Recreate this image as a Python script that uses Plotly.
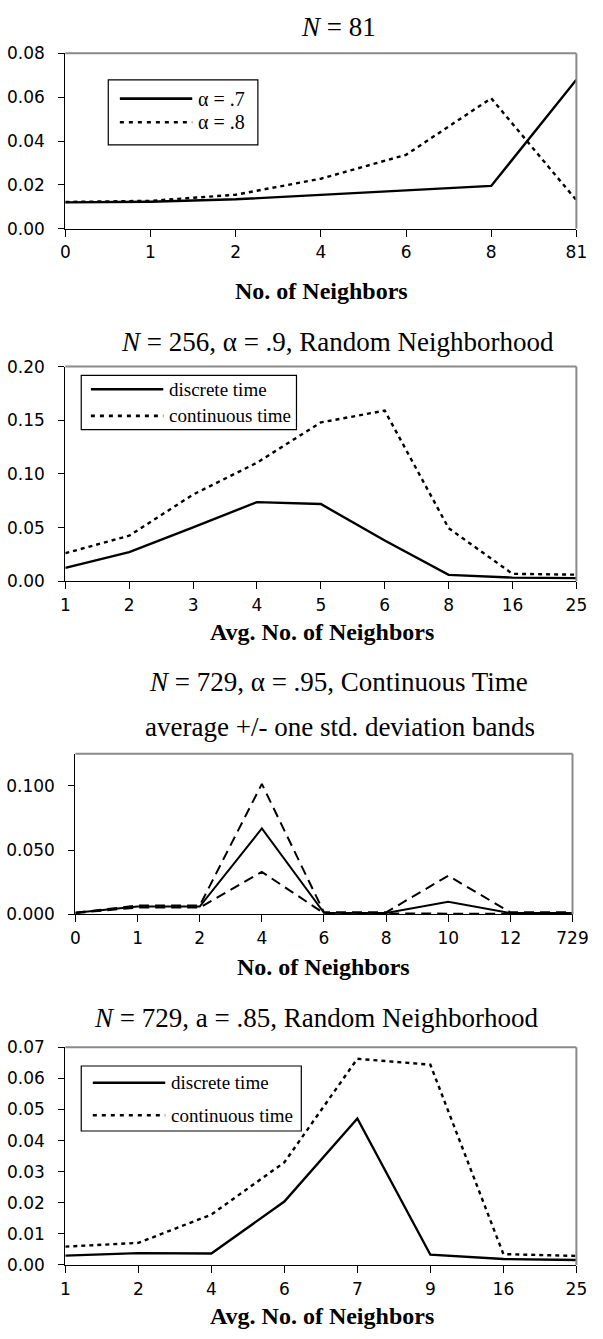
import plotly.graph_objects as go

W, H = 603, 1339

# ---------------- data ----------------
P1_CATS = ["0", "1", "2", "4", "6", "8", "81"]
P1_NAMES = ["α = .7", "α = .8"]
P1_A7 = [0.0120, 0.0123, 0.0134, 0.0153, 0.0175, 0.0195, 0.0680]
P1_A8 = [0.0122, 0.0127, 0.0155, 0.0228, 0.0337, 0.0595, 0.0130]

P2_CATS = ["1", "2", "3", "4", "5", "6", "8", "16", "25"]
P2_NAMES = ["discrete time", "continuous time"]
P2_DISC = [0.0125, 0.0272, 0.0503, 0.0738, 0.0720, 0.0380, 0.0060, 0.0035, 0.0030]
P2_CONT = [0.0262, 0.0425, 0.0808, 0.1105, 0.1480, 0.1590, 0.0495, 0.0070, 0.0062]

P3_CATS = ["0", "1", "2", "4", "6", "8", "10", "12", "729"]
P3_MEAN = [0.0012, 0.0060, 0.0060, 0.0668, 0.0012, 0.0010, 0.0097, 0.0010, 0.0010]
P3_UPPER = [0.0012, 0.0068, 0.0068, 0.1015, 0.0015, 0.0015, 0.0300, 0.0015, 0.0015]
P3_LOWER = [0.0010, 0.0052, 0.0052, 0.0330, 0.0008, 0.0005, 0.0005, 0.0005, 0.0005]

P4_CATS = ["1", "2", "4", "6", "7", "9", "16", "25"]
P4_NAMES = ["discrete time", "continuous time"]
P4_DISC = [0.0030, 0.0038, 0.0037, 0.0204, 0.0471, 0.0033, 0.0019, 0.0016]
P4_CONT = [0.0059, 0.0071, 0.0162, 0.0330, 0.0663, 0.0644, 0.0035, 0.0029]

TITLES = [
    "<i>N</i> = 81",
    "<i>N</i> = 256, α = .9, Random Neighborhood",
    "<i>N</i> = 729, α = .95, Continuous Time",
    "<i>N</i> = 729, a = .85, Random Neighborhood",
]
SUBTITLE3 = "average +/- one std. deviation bands"
XTITLES = ["No. of Neighbors", "Avg. No. of Neighbors", "No. of Neighbors", "Avg. No. of Neighbors"]

# ---------------- styling ----------------
SERIF = "Liberation Serif"
TICKFONT = dict(family="DejaVu Sans", size=17, color="black")
GRAY = "#8a8a8a"


def px(x):
    return x / W


def py(y):
    return 1 - y / H


fig = go.Figure()
shapes = []
annotations = []

# panel geometry in pixels: (left, right, top, bottom)
PANELS = [
    (62.5, 592, 44, 222),
    (62.5, 592, 362, 580),
    (73, 588, 755, 918),
    (62.5, 592, 1053, 1274),
]
YSET = [
    dict(range=[0, 0.08], dtick=0.02, tickformat=".2f"),
    dict(range=[0, 0.20], dtick=0.05, tickformat=".2f"),
    dict(range=[0, 0.125], dtick=0.05, tickformat=".3f"),
    dict(range=[0, 0.07], dtick=0.01, tickformat=".2f"),
]
CATS = [P1_CATS, P2_CATS, P3_CATS, P4_CATS]

layout_axes = {}
for i, ((l, r, t, b), ys, cats) in enumerate(zip(PANELS, YSET, CATS)):
    a = 2 * i + 1      # data axes index
    o = 2 * i + 2      # overlay axes index (inside ticks)
    xd = [px(l), px(r)]
    yd = [py(b), py(t)]
    sa = "" if a == 1 else str(a)
    n = len(cats)
    layout_axes[f"xaxis{sa}"] = dict(
        domain=xd, anchor=f"y{sa}", type="category", categoryorder="array",
        categoryarray=cats, range=[0, n - 1], showline=True, linecolor="black",
        linewidth=1.3, ticks="outside", ticklen=7, tickwidth=1.3, tickcolor="black",
        showgrid=False, zeroline=False, tickfont=TICKFONT, ticklabelstandoff=1,
    )
    layout_axes[f"yaxis{sa}"] = dict(
        domain=yd, anchor=f"x{sa}", range=ys["range"], dtick=ys["dtick"],
        tickformat=ys["tickformat"], tick0=0, showline=True, linecolor="black",
        linewidth=1.3, ticks="outside", ticklen=6, tickwidth=1.3, tickcolor="black",
        showgrid=False, zeroline=False, tickfont=TICKFONT, ticklabelstandoff=10,
    )
    # overlay axes for the inner half of the crossing ticks
    layout_axes[f"xaxis{o}"] = dict(
        domain=xd, anchor=f"y{o}", overlaying=f"x{sa}", range=[0, n - 1],
        tickvals=list(range(n)), ticks="inside", ticklen=7, tickwidth=1.3,
        tickcolor="black", showticklabels=False, showgrid=False, zeroline=False,
        showline=False,
    )
    layout_axes[f"yaxis{o}"] = dict(
        domain=yd, anchor=f"x{o}", overlaying=f"y{sa}", range=ys["range"],
        dtick=ys["dtick"], tick0=0, ticks="inside", ticklen=6, tickwidth=1.3,
        tickcolor="black", showticklabels=False, showgrid=False, zeroline=False,
        showline=False,
    )
    # gray frame (top and right)
    shapes.append(dict(type="line", xref=f"x{sa} domain", yref=f"y{sa} domain",
                       x0=0, x1=1, y0=1, y1=1, line=dict(color=GRAY, width=2)))
    shapes.append(dict(type="line", xref=f"x{sa} domain", yref=f"y{sa} domain",
                       x0=1, x1=1, y0=0, y1=1, line=dict(color=GRAY, width=2)))


def add_line(i, cats, vals, name, dash, width=2.4):
    sa = "" if i == 0 else str(2 * i + 1)
    fig.add_trace(go.Scatter(
        x=cats, y=vals, name=name, mode="lines",
        line=dict(color="black", width=width, dash=dash),
        xaxis=f"x{sa}", yaxis=f"y{sa}", showlegend=False, cliponaxis=False,
    ))


DOT = "4px,4px"
add_line(0, P1_CATS, P1_A7, P1_NAMES[0], "solid")
add_line(0, P1_CATS, P1_A8, P1_NAMES[1], DOT)
add_line(1, P2_CATS, P2_DISC, P2_NAMES[0], "solid")
add_line(1, P2_CATS, P2_CONT, P2_NAMES[1], DOT)
add_line(2, P3_CATS, P3_UPPER, "mean + sd", "10px,6px", 2)
add_line(2, P3_CATS, P3_LOWER, "mean - sd", "10px,6px", 2)
add_line(2, P3_CATS, P3_MEAN, "average", "solid", 2)
add_line(3, P4_CATS, P4_DISC, P4_NAMES[0], "solid")
add_line(3, P4_CATS, P4_CONT, P4_NAMES[1], DOT)

# ---------------- titles ----------------
def text(x, y, s, size, bold=False, anchor="center", family=SERIF):
    annotations.append(dict(
        xref="paper", yref="paper", x=px(x), y=py(y), text=(f"<b>{s}</b>" if bold else s),
        showarrow=False, xanchor=anchor, yanchor="middle",
        font=dict(family=family, size=size, color="black"),
    ))


text(346, 17, TITLES[0], 27)
text(344, 337, TITLES[1], 27)
text(346, 682, TITLES[2], 27)
text(347, 728, SUBTITLE3, 27)
text(322, 1023, TITLES[3], 27)

text(328, 285, XTITLES[0], 24, bold=True)
text(328, 631, XTITLES[1], 24, bold=True)
text(330, 972, XTITLES[2], 24, bold=True)
text(328, 1326, XTITLES[3], 24, bold=True)

# ---------------- legends ----------------
def legend(box, l1, l2, texts, size):
    x0, x1, y0, y1 = box
    shapes.append(dict(type="rect", xref="paper", yref="paper",
                       x0=px(x0), x1=px(x1), y0=py(y1), y1=py(y0),
                       line=dict(color="black", width=1.2), fillcolor="white", layer="above"))
    for (lx0, lx1, ly), dash in zip([l1, l2], ["solid", "dot"]):
        shapes.append(dict(type="line", xref="paper", yref="paper",
                           x0=px(lx0), x1=px(lx1), y0=py(ly), y1=py(ly), layer="above",
                           line=dict(color="black", width=2.6,
                                     dash=("solid" if dash == "solid" else "4px,5px"))))
    text(l1[1] + 4, l1[2], texts[0], size, anchor="left")
    text(l2[1] + 4, l2[2], texts[1], size, anchor="left")


legend((107, 262, 71, 137), (119, 194, 90), (119, 194, 114), P1_NAMES, 20)
legend((79, 302, 371, 426), (89, 164, 385), (89, 164, 412), P2_NAMES, 19)
legend((79, 307, 1072, 1138), (91, 166, 1089), (91, 166, 1122), P4_NAMES, 19)

fig.update_layout(
    width=W, height=H, margin=dict(l=0, r=0, t=0, b=0),
    paper_bgcolor="white", plot_bgcolor="white", showlegend=False,
    shapes=shapes, annotations=annotations, **layout_axes,
)

fig.write_html("out.html", config={"displayModeBar": False},
               post_script="document.body.style.margin='0';")
